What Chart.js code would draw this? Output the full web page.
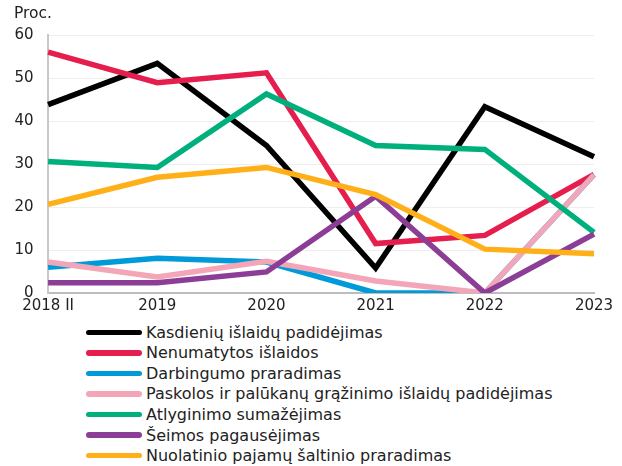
<!DOCTYPE html>
<html>
<head>
<meta charset="utf-8">
<script src="https://cdn.jsdelivr.net/npm/chart.js@4"></script>
<style>
  html, body { margin: 0; padding: 0; background: #fff; }
  body { width: 622px; height: 466px; position: relative; overflow: hidden; font-family: "DejaVu Sans", Verdana, sans-serif; }
  #wrap { position: absolute; left: 0; top: 0; width: 622px; height: 319px; }
  #legend { position: absolute; left: 86px; top: 322px; font-size: 16px; color: #222; }
  .item { display: flex; align-items: center; height: 20.55px; white-space: nowrap; }
  .sw { width: 56px; height: 5.5px; border-radius: 3px; margin-right: 4px; }
</style>
</head>
<body>
<div id="wrap"><canvas id="c"></canvas></div>
<div id="legend"></div>
<script>
const categories = ["2018 II", "2019", "2020", "2021", "2022", "2023"];
const seriesNames = [
  "Kasdienių išlaidų padidėjimas",
  "Nenumatytos išlaidos",
  "Darbingumo praradimas",
  "Paskolos ir palūkanų grąžinimo išlaidų padidėjimas",
  "Atlyginimo sumažėjimas",
  "Šeimos pagausėjimas",
  "Nuolatinio pajamų šaltinio praradimas"
];
const kasdieniu = [43.8, 53.4, 34.3, 5.8, 43.3, 31.7];
const nenumatytos = [56.0, 48.9, 51.2, 11.5, 13.4, 27.6];
const darbingumo = [6.0, 8.1, 7.2, 0.0, 0.0, 27.5];
const paskolos = [7.2, 3.7, 7.4, 2.8, 0.0, 27.5];
const atlyginimo = [30.6, 29.2, 46.3, 34.3, 33.4, 14.1];
const seimos = [2.4, 2.4, 4.9, 22.5, 0.0, 13.7];
const nuolatinio = [20.6, 26.9, 29.2, 22.9, 10.2, 9.1];
const yTicks = [0, 10, 20, 30, 40, 50, 60];
const yTitle = "Proc.";

const colors = ["#000000", "#E61E4D", "#009AD9", "#F4A6B9", "#00B07C", "#8C3E96", "#FFB019"];
const allSeries = [kasdieniu, nenumatytos, darbingumo, paskolos, atlyginimo, seimos, nuolatinio];
const FONT = '"DejaVu Sans", Verdana, sans-serif';

const datasets = allSeries.map((d, i) => ({
  label: seriesNames[i],
  data: d,
  borderColor: colors[i],
  backgroundColor: colors[i],
  borderWidth: 5.5,
  pointRadius: 0,
  tension: 0,
  fill: false,
  order: allSeries.length - i
}));

const titlePlugin = {
  id: 'ytitle',
  afterDraw(chart) {
    const ctx = chart.ctx;
    ctx.save();
    ctx.font = '15.5px ' + FONT;
    ctx.fillStyle = '#222';
    ctx.textAlign = 'left';
    ctx.textBaseline = 'middle';
    ctx.fillText(yTitle, 14, 14);
    ctx.restore();
  }
};

new Chart(document.getElementById('c'), {
  type: 'line',
  data: { labels: categories, datasets },
  options: {
    responsive: true,
    maintainAspectRatio: false,
    animation: false,
    layout: { padding: { top: 35, right: 28, left: 0, bottom: 0 } },
    plugins: { legend: { display: false }, tooltip: { enabled: false } },
    scales: {
      x: {
        type: 'category',
        offset: false,
        grid: { display: false, drawTicks: false },
        border: { display: true, color: '#bdbdbd', width: 2 },
        ticks: { color: '#222', font: { family: FONT, size: 15 }, padding: 4, maxRotation: 0, autoSkip: false }
      },
      y: {
        min: 0, max: 60,
        afterBuildTicks(axis) { axis.ticks = yTicks.map(v => ({ value: v })); },
        grid: { color: '#eeeeee', lineWidth: 1, drawTicks: false },
        border: { display: true, color: '#c8c8c8', width: 2 },
        ticks: { color: '#222', font: { family: FONT, size: 15 }, padding: 14.5 }
      }
    }
  },
  plugins: [titlePlugin]
});

const leg = document.getElementById('legend');
seriesNames.forEach((n, i) => {
  const row = document.createElement('div');
  row.className = 'item';
  const sw = document.createElement('span');
  sw.className = 'sw';
  sw.style.background = colors[i];
  const t = document.createElement('span');
  t.textContent = n;
  row.appendChild(sw);
  row.appendChild(t);
  leg.appendChild(row);
});
</script>
</body>
</html>
